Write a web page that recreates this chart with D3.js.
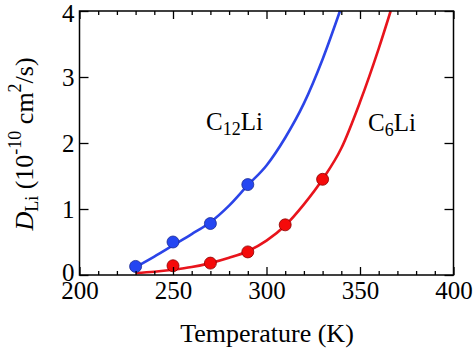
<!DOCTYPE html>
<html>
<head>
<meta charset="utf-8">
<script src="https://cdn.jsdelivr.net/npm/d3@7/dist/d3.min.js"></script>
<style>
  html, body { margin: 0; padding: 0; background: #fff; }
  svg { display: block; }
  text { font-family: "Liberation Serif", "Times New Roman", serif; fill: #000; }
</style>
</head>
<body>
<svg id="chart" width="474" height="355"></svg>
<script>
// ---- data ----
const xTicks = [200, 250, 300, 350, 400];
const yTicks = [0, 1, 2, 3, 4];

// C12Li measured points (T in K, D in 1e-10 cm^2/s)
const c12T = [230, 250, 270, 290];
const c12D = [0.13, 0.50, 0.78, 1.37];
// C6Li measured points
const c6T = [250, 270, 290, 310, 330];
const c6D = [0.14, 0.18, 0.35, 0.76, 1.45];

// fitted curves
const c12FitT = [230, 240, 250, 260, 270, 280, 290, 300, 310, 320, 330, 339.3];
const c12FitD = [0.12, 0.28, 0.45, 0.62, 0.80, 1.05, 1.36, 1.66, 2.08, 2.60, 3.27, 4.0];
const c6FitT = [230, 240, 250, 260, 270, 280, 290, 300, 310, 320, 330, 340, 350, 360, 366.4];
const c6FitD = [0.03, 0.05, 0.08, 0.12, 0.18, 0.26, 0.36, 0.52, 0.75, 1.07, 1.45, 1.92, 2.62, 3.43, 4.0];

// ---- layout ----
const FONT = '"Liberation Serif", "Times New Roman", serif';
const svg = d3.select("#chart");
const L = 79.5, R = 453.5, T = 11, B = 275;
const x = d3.scaleLinear().domain([200, 400]).range([L, R]);
const y = d3.scaleLinear().domain([0, 4]).range([B, T]);

const blueLine = "#2b44e8", redLine = "#e8141c";
const blueFill = "#2446f2", redFill = "#f50a0a";

// curves
const line = d3.line().x(d => x(d[0])).y(d => y(d[1])).curve(d3.curveMonotoneX);
svg.append("path").datum(d3.zip(c12FitT, c12FitD))
  .attr("d", line).attr("fill", "none").attr("stroke", blueLine).attr("stroke-width", 2.6);
svg.append("path").datum(d3.zip(c6FitT, c6FitD))
  .attr("d", line).attr("fill", "none").attr("stroke", redLine).attr("stroke-width", 2.6);

// points
svg.append("g").selectAll("circle").data(d3.zip(c12T, c12D)).join("circle")
  .attr("cx", d => x(d[0])).attr("cy", d => y(d[1])).attr("r", 6)
  .attr("fill", blueFill).attr("stroke", "#1a2a90").attr("stroke-width", 0.8);
svg.append("g").selectAll("circle").data(d3.zip(c6T, c6D)).join("circle")
  .attr("cx", d => x(d[0])).attr("cy", d => y(d[1])).attr("r", 6)
  .attr("fill", redFill).attr("stroke", "#8a0000").attr("stroke-width", 0.8);

// axes with inward ticks
const minorX = d3.range(200, 401, 10).filter(v => v % 50 !== 0);
function styleAxis(g) {
  g.attr("font-family", FONT).attr("font-size", 25);
  g.select(".domain").remove();
  g.selectAll("line").attr("stroke", "#000").attr("stroke-width", 1.3);
  g.selectAll("text").attr("font-family", FONT).attr("font-size", 25)
    .style("font-family", FONT).style("font-size", "25px");
}
svg.append("g").attr("transform", `translate(0,${B})`)
  .call(d3.axisBottom(x).tickValues(xTicks).tickSizeInner(-8).tickSizeOuter(0).tickPadding(6).tickFormat(d3.format("d")))
  .call(styleAxis);
svg.append("g").attr("transform", `translate(0,${B})`)
  .call(d3.axisBottom(x).tickValues(minorX).tickSizeInner(-4).tickSizeOuter(0).tickFormat(""))
  .call(styleAxis);
svg.append("g").attr("transform", `translate(0,${T})`)
  .call(d3.axisTop(x).tickValues(xTicks).tickSizeInner(-8).tickSizeOuter(0).tickFormat(""))
  .call(styleAxis);
svg.append("g").attr("transform", `translate(0,${T})`)
  .call(d3.axisTop(x).tickValues(minorX).tickSizeInner(-4).tickSizeOuter(0).tickFormat(""))
  .call(styleAxis);
const yAxisG = svg.append("g").attr("transform", `translate(${L},0)`)
  .call(d3.axisLeft(y).tickValues(yTicks).tickSizeInner(-9).tickSizeOuter(0).tickPadding(5).tickFormat(d3.format("d")))
  .call(styleAxis);
// keep the end labels clear of the edge and of the x labels
yAxisG.selectAll(".tick text").filter(d => d === 4).attr("dy", "0.42em");
yAxisG.selectAll(".tick text").filter(d => d === 0).attr("dy", "0.22em");
svg.append("g").attr("transform", `translate(${R},0)`)
  .call(d3.axisRight(y).tickValues(yTicks).tickSizeInner(-9).tickSizeOuter(0).tickFormat(""))
  .call(styleAxis);

// frame
svg.append("rect").attr("x", L).attr("y", T).attr("width", R - L).attr("height", B - T)
  .attr("fill", "none").attr("stroke", "#000").attr("stroke-width", 1.5);

// axis titles
svg.append("text").attr("x", 267).attr("y", 342).attr("text-anchor", "middle")
  .style("font-size", "26px").text("Temperature (K)");

const yl = svg.append("text").attr("transform", `translate(33,${(T + B) / 2 + 1}) rotate(-90)`)
  .attr("text-anchor", "middle").style("font-size", "26px");
yl.append("tspan").style("font-style", "italic").text("D");
yl.append("tspan").attr("dy", 5).style("font-size", "18px").text("Li");
yl.append("tspan").attr("dy", -5).text(" (10");
yl.append("tspan").attr("dy", -12).style("font-size", "18px").text("-10");
yl.append("tspan").attr("dy", 12).text(" cm");
yl.append("tspan").attr("dy", -12).style("font-size", "18px").text("2");
yl.append("tspan").attr("dy", 12).text("/s)");

// series labels
const l1 = svg.append("text").attr("x", 206).attr("y", 130).style("font-size", "25px");
l1.append("tspan").text("C");
l1.append("tspan").attr("dy", 5).style("font-size", "18px").text("12");
l1.append("tspan").attr("dy", -5).text("Li");

const l2 = svg.append("text").attr("x", 368).attr("y", 131).style("font-size", "25px");
l2.append("tspan").text("C");
l2.append("tspan").attr("dy", 5).style("font-size", "18px").text("6");
l2.append("tspan").attr("dy", -5).text("Li");
</script>
</body>
</html>
